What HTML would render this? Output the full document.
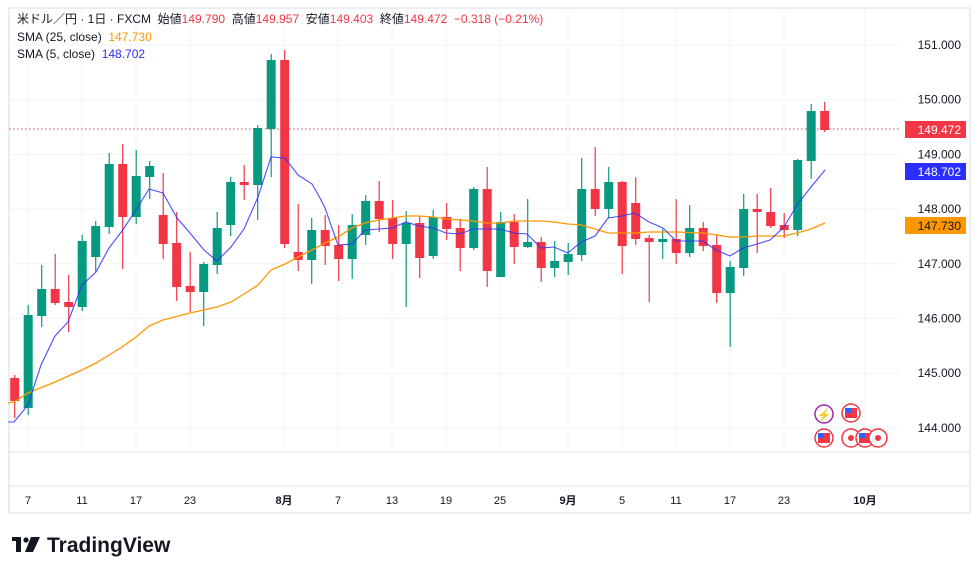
<!DOCTYPE html>
<html><head><meta charset="utf-8"><style>
html,body{margin:0;padding:0;background:#fff;width:980px;height:574px;overflow:hidden}
svg{display:block;font-family:"Liberation Sans","Noto Sans CJK JP",sans-serif}
.pre{white-space:pre}
</style></head><body>
<svg id="s" width="980" height="574" viewBox="0 0 980 574" xmlns="http://www.w3.org/2000/svg">
<rect x="9" y="8" width="961" height="505" fill="#fff" stroke="#e6e7eb" stroke-width="1.5"/>
<g id="grid" stroke="#f2f3f5" stroke-width="1"></g>
<line x1="9" y1="452" x2="970" y2="452" stroke="#e0e3eb"/>
<line x1="9" y1="486" x2="970" y2="486" stroke="#e0e3eb"/>
<line x1="9" y1="129" x2="900" y2="129" stroke="#f23645" stroke-dasharray="1.5,2.5"/>
<g id="candles"></g>
<polyline id="sma25" fill="none" stroke="#ff9800" stroke-width="1.3"/>
<polyline id="sma5" fill="none" stroke="#2a2eff" stroke-width="1.1" opacity="0.85"/>
<g id="ylab" font-size="12" fill="#131722"></g>
<rect x="905" y="121" width="61" height="17" fill="#f23645"/>
<text x="961" y="134" font-size="12" fill="#fff" text-anchor="end">149.472</text>
<rect x="905" y="163" width="61" height="17" fill="#2a2eff"/>
<text x="961" y="176" font-size="12" fill="#fff" text-anchor="end">148.702</text>
<rect x="905" y="217" width="61" height="17" fill="#ff9800"/>
<text x="961" y="230" font-size="12" fill="#131722" text-anchor="end">147.730</text>
<g font-size="11" fill="#131722" text-anchor="middle">
<text x="28" y="504">7</text><text x="82" y="504">11</text><text x="136" y="504">17</text><text x="190" y="504">23</text>
<text x="284" y="504" font-weight="bold">8月</text><text x="338" y="504">7</text><text x="392" y="504">13</text><text x="446" y="504">19</text>
<text x="500" y="504">25</text><text x="568" y="504" font-weight="bold">9月</text><text x="622" y="504">5</text><text x="676" y="504">11</text>
<text x="730" y="504">17</text><text x="784" y="504">23</text><text x="865" y="504" font-weight="bold">10月</text>
</g>
<g font-size="12">
<text class="pre" x="17" y="23" fill="#131722">米ドル／円 · 1日 · FXCM  始値<tspan fill="#f23645">149.790</tspan>  高値<tspan fill="#f23645">149.957</tspan>  安値<tspan fill="#f23645">149.403</tspan>  終値<tspan fill="#f23645">149.472  −0.318 (−0.21%)</tspan></text>
<text class="pre" x="17" y="41" fill="#131722">SMA (25, close)  <tspan fill="#ff9800">147.730</tspan></text>
<text class="pre" x="17" y="58" fill="#131722">SMA (5, close)  <tspan fill="#2a2eff">148.702</tspan></text>
</g>
<g stroke-width="1.5">
<circle cx="824" cy="414" r="9" fill="#fff" stroke="#9c27b0"/><text x="824" y="419" font-size="12" fill="#9c27b0" text-anchor="middle">⚡</text>
<circle cx="851" cy="413" r="9" fill="#fff" stroke="#f23645"/><rect x="845" y="408" width="12" height="10" fill="#f23645"/><rect x="845" y="408" width="6" height="5" fill="#2962ff"/>
<circle cx="824" cy="438" r="9" fill="#fff" stroke="#f23645"/><rect x="818" y="433" width="12" height="10" fill="#f23645"/><rect x="818" y="433" width="6" height="5" fill="#2962ff"/>
<circle cx="851" cy="438" r="9" fill="#fff" stroke="#f23645"/><circle cx="851" cy="438" r="3" fill="#f23645"/>
<circle cx="865" cy="438" r="9" fill="#fff" stroke="#f23645"/><rect x="859" y="433" width="12" height="10" fill="#f23645"/><rect x="859" y="433" width="6" height="5" fill="#2962ff"/>
<circle cx="878" cy="438" r="9" fill="#fff" stroke="#f23645"/><circle cx="878" cy="438" r="3" fill="#f23645"/>
</g>
<g fill="#131722">
<rect x="12" y="537" width="9" height="4"/><rect x="16" y="537" width="5" height="15"/>
<circle cx="26" cy="540" r="2.6"/><polygon points="31,537 40,537 33,552 25,552"/>
<text x="47" y="552" font-size="21" font-weight="bold">TradingView</text>
</g>
</svg>
<script>
var NS="http://www.w3.org/2000/svg";
function el(t,a,p){var e=document.createElementNS(NS,t);for(var k in a)e.setAttribute(k,a[k]);p.appendChild(e);return e;}
var grid=document.getElementById('grid');
for(var p=144;p<=151;p++){var y=45+(151-p)*54.7;el('line',{x1:9,y1:y,x2:900,y2:y},grid);}
[28,82,136,190,284,338,392,446,500,568,622,676,730,784,865].forEach(function(x){el('line',{x1:x,y1:8,x2:x,y2:452},grid);});
var yl=document.getElementById('ylab');
for(var p=144;p<=151;p++){var y=45+(151-p)*54.7;var t=el('text',{x:961,y:y+4,'text-anchor':'end'},yl);t.textContent=p+'.000';}
var C=[['r',378,401,375,418],['g',315,408,305,415],['g',289,316,265,327],['r',289,303,254,305],['r',302,307,275,332],
['g',241,307,235,311],['g',226,257,221,272],['g',164,227,153,234],['r',164,217,144,269],['g',176,217,150,224],
['g',166,177,161,199],['r',215,244,173,259],['r',243,287,212,301],['r',286,292,252,312],['g',264,292,262,326],
['g',228,265,212,274],['g',182,225,177,236],['r',182,185,165,200],['g',128,185,125,220],['g',60,129,54,177],
['r',60,244,50,248],['r',252,260,204,271],['g',230,260,218,284],['r',230,246,215,265],['r',245,259,225,281],
['g',225,259,214,279],['g',201,235,195,245],['r',201,219,181,232],['r',218,244,200,259],['g',223,244,211,307],
['r',223,258,216,278],['g',217,256,210,259],['r',217,229,203,240],['r',228,248,219,271],['g',189,248,187,250],
['r',189,271,167,287],['g',222,277,212,277],['r',222,247,214,264],['g',242,247,199,248],['r',242,268,237,282],
['g',261,268,241,277],['g',254,262,243,275],['g',189,255,158,261],['r',189,209,147,216],['g',182,209,167,218],
['r',182,246,181,274],['r',203,239,177,245],['r',238,242,235,302],['g',239,242,229,259],['r',239,253,199,264],
['g',228,253,205,257],['r',228,246,222,251],['r',245,293,234,303],['g',267,293,261,347],['g',209,268,194,276],
['r',209,212,194,253],['r',212,226,188,228],['r',225,230,213,238],['g',160,230,159,236],['g',111,161,104,179],
['r',111,130,102,132]];
var g=document.getElementById('candles');
C.forEach(function(c,i){var x=14.7+i*13.5;var col=c[0]=='r'?'#f23645':'#089981';
el('line',{x1:x,y1:c[3],x2:x,y2:c[4],stroke:col,'stroke-width':1.2},g);
el('rect',{x:x-4.5,y:c[1],width:9,height:Math.max(2,c[2]-c[1]),fill:col},g);});
var s5=[[8,422],[14,422],[28,405],[41,365],[55,336],[68,322],[82,285],[96,272],[109,248],[122,231],[136,210],[149,189],[163,193],[177,218],[190,233],[204,250],[217,261],[231,247],[244,229],[258,197],[271,157],[285,158],[298,175],[312,184],[320,198],[325,208],[338,245],[352,244],[365,230],[379,229],[392,228],[406,222],[419,226],[433,228],[446,233],[460,234],[473,229],[487,229],[500,229],[514,233],[527,234],[541,248],[554,247],[568,253],[581,242],[595,236],[608,218],[622,216],[635,213],[649,222],[663,228],[676,241],[689,241],[703,241],[716,250],[730,256],[743,248],[757,244],[770,240],[784,227],[797,205],[811,187],[825,170]];
var s25=[[8,403],[14,402],[28,393],[55,382],[82,370],[96,363],[122,347],[136,337],[149,326],[163,320],[190,313],[217,307],[231,302],[244,294],[258,285],[271,270],[285,264],[298,257],[312,250],[325,243],[338,237],[352,228],[365,223],[379,220],[392,218],[406,216],[419,216],[433,217],[446,219],[460,220],[473,221],[487,223],[500,223],[514,221],[527,221],[541,221],[554,222],[568,224],[581,225],[595,229],[608,233],[622,233],[635,233],[649,232],[663,232],[676,232],[703,233],[730,237],[743,237],[757,236],[784,236],[797,233],[811,229],[825,223]];
document.getElementById('sma5').setAttribute('points',s5.map(function(p){return p.join(',')}).join(' '));
document.getElementById('sma25').setAttribute('points',s25.map(function(p){return p.join(',')}).join(' '));
</script>
</body></html>
